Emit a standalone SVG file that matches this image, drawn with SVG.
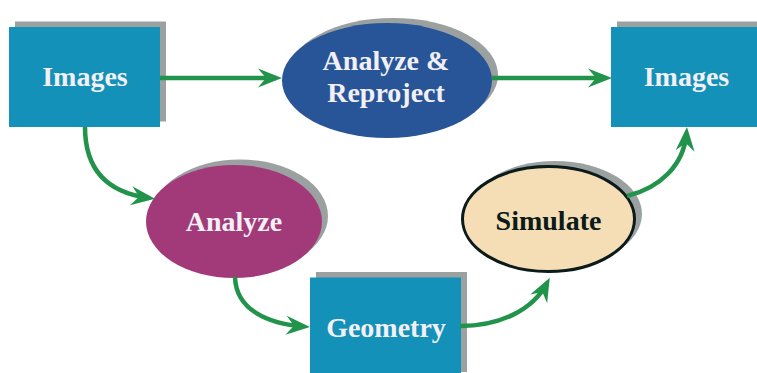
<svg xmlns="http://www.w3.org/2000/svg" width="757" height="373" viewBox="0 0 757 373">
  <style>
    .shadow { fill: #9ba1a1; }
    .box { fill: #1391b8; }
    .label { font-family: "Liberation Serif", "DejaVu Serif", "Times New Roman", serif; font-weight: bold; font-size: 28px; text-anchor: middle; fill: #f2f0f5; }
    .dark { fill: #0b1a1a; }
    .link { fill: none; stroke: #21934a; stroke-width: 4.5; stroke-linecap: butt; marker-end: url(#head); }
  </style>
  <defs>
    <!-- notched arrowhead; tip sits 6px beyond the path end -->
    <marker id="head" viewBox="-26 -12 28 24" markerWidth="28" markerHeight="24" refX="-6" refY="0" markerUnits="userSpaceOnUse" orient="auto">
      <path d="M0,0 L-24,-9.5 L-16,0 L-24,9.5 Z" fill="#21934a"/>
    </marker>
  </defs>
  <rect width="757" height="373" fill="#ffffff"/>

  <g id="images-in">
    <rect class="shadow" x="15" y="21.5" width="151" height="100"/>
    <rect class="box" x="9" y="27" width="151" height="100"/>
    <text class="label" x="85" y="86">Images</text>
  </g>

  <g id="analyze-reproject">
    <ellipse class="shadow" cx="393" cy="75" rx="105" ry="57"/>
    <ellipse cx="387" cy="80.5" rx="105" ry="57.5" fill="#285597"/>
    <text class="label" x="386" y="70">Analyze &amp;</text>
    <text class="label" x="386" y="101.5">Reproject</text>
  </g>

  <g id="images-out">
    <rect class="shadow" x="617" y="21.5" width="151" height="100"/>
    <rect class="box" x="611" y="27" width="151" height="100"/>
    <text class="label" x="686.5" y="86">Images</text>
  </g>

  <g id="analyze">
    <ellipse class="shadow" cx="240" cy="216" rx="88" ry="56.5"/>
    <ellipse cx="234" cy="221.5" rx="88" ry="56.5" fill="#a23a7a"/>
    <text class="label" x="234" y="231">Analyze</text>
  </g>

  <g id="geometry">
    <rect class="shadow" x="316" y="272" width="151" height="100"/>
    <rect class="box" x="310" y="277.5" width="151" height="100"/>
    <text class="label" x="386" y="336.5">Geometry</text>
  </g>

  <g id="simulate">
    <ellipse class="shadow" cx="555" cy="214" rx="87" ry="53"/>
    <ellipse cx="548.5" cy="219" rx="86" ry="52.5" fill="#f5deb5" stroke="#0b1a1a" stroke-width="3"/>
    <text class="label dark" x="548.5" y="230">Simulate</text>
  </g>

  <g id="connectors">
    <path class="link" d="M160,78 L276,78"/>
    <path class="link" d="M492,78 L606,78"/>
    <path class="link" d="M85,127 C85,172 110,193 149,198"/>
    <path class="link" d="M235,277 C236,310 268,324 304,326.5"/>
    <path class="link" d="M460,326 C500,326 533,310 547,283"/>
    <path class="link" d="M627,196 C660,188 684,165 686.5,133"/>
  </g>
</svg>
